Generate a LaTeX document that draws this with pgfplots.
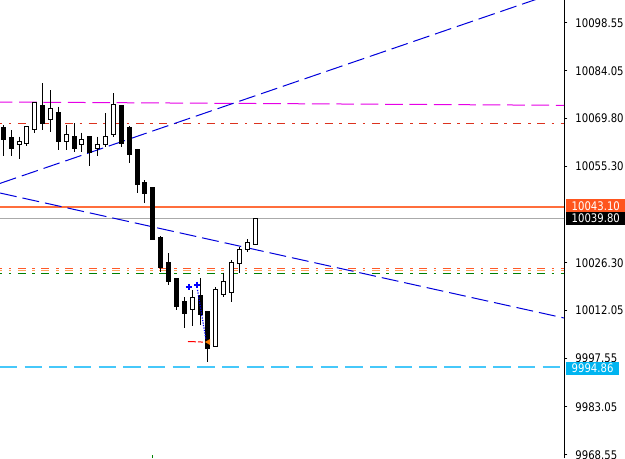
\documentclass[border=0pt]{standalone}
\usepackage{fontspec}
\setmainfont{DejaVu Sans}[FakeStretch=0.85]
\usepackage{pgfplots}
\pgfplotsset{compat=1.18}
\definecolor{obox}{RGB}{255,85,30}
\definecolor{oline}{RGB}{255,110,60}
\definecolor{gline}{RGB}{170,170,170}
\definecolor{cline}{RGB}{70,200,250}
\definecolor{cbox}{RGB}{0,180,240}
\definecolor{mag}{RGB}{230,0,230}
\definecolor{rdd}{RGB}{220,50,30}
\definecolor{c1}{RGB}{255,90,40}
\definecolor{c2}{RGB}{255,160,90}
\definecolor{c3}{RGB}{0,128,0}
\definecolor{tblue}{RGB}{0,0,220}
\newcommand{\cnd}[8]{%
  \addplot[black, line width=0.75pt] coordinates {(#1,#5)(#1,#6)};
  \addplot[draw=black, fill=#8, line width=0.75pt, line cap=rect] coordinates {(#2,#4)(#3,#4)(#3,#7)(#2,#7)(#2,#4)};
}
\newcommand{\lblfont}{\fontsize{8.9pt}{10pt}\selectfont}
\begin{document}
\begin{tikzpicture}
\begin{axis}[
  at={(0,0)}, anchor=south west,
  width=423pt, height=343.5pt, scale only axis,
  xmin=-0.419, xmax=71.25,
  ymin=9967.63, ymax=10105.38,
  axis x line=none,
  axis y line*=right,
  y axis line style={black, line width=0.75pt, -},
  xtick=\empty,
  ytick={10098.55,10084.05,10069.80,10055.30,10026.30,10012.05,9997.55,9983.05,9968.55},
  yticklabels={10098.55,10084.05,10069.80,10055.30,10026.30,10012.05,9997.55,9983.05,9968.55},
  ytick pos=right, yticklabel pos=right,
  tick align=outside,
  major tick length=2.6pt,
  tick style={black, line width=0.75pt},
  yticklabel style={anchor=west, inner sep=0pt, xshift=5.8pt, font=\lblfont, text=black},
]
% horizontal levels
\addplot[mag, line width=0.75pt, dash pattern=on 13.3pt off 5pt, dash phase=4pt] coordinates {(-0.419,10074.70)(71.25,10073.71)};
\addplot[rdd, line width=0.75pt, dash pattern=on 6pt off 4.9pt on 1.9pt off 4.9pt, dash phase=4.3pt] coordinates {(-0.419,10068.29)(71.25,10068.29)};
\addplot[oline, line width=1.2pt] coordinates {(-0.419,10043.10)(71.25,10043.10)};
\addplot[gline, line width=0.75pt] coordinates {(-0.419,10039.80)(71.25,10039.80)};
\addplot[c1, line width=0.75pt, dash pattern=on 6pt off 4.9pt on 1.9pt off 4.9pt, dash phase=4.3pt] coordinates {(-0.419,10024.68)(71.25,10024.68)};
\addplot[c2, line width=0.75pt, dash pattern=on 6pt off 4.9pt on 1.9pt off 4.9pt, dash phase=4.3pt] coordinates {(-0.419,10024.07)(71.25,10024.07)};
\addplot[c3, line width=0.75pt, dash pattern=on 6pt off 4.9pt on 1.9pt off 4.9pt, dash phase=4.3pt] coordinates {(-0.419,10023.27)(71.25,10023.27)};
\addplot[cline, line width=1.5pt, dash pattern=on 13pt off 5.5pt] coordinates {(-0.419,9994.86)(71.25,9994.86)};
% trend lines
\addplot[tblue, line width=0.75pt, dash pattern=on 12.75pt off 4.5pt] coordinates {(-0.419,10050.22)(71.25,10108.45)};
\addplot[tblue, line width=0.75pt, dash pattern=on 12.75pt off 4.5pt] coordinates {(-0.419,10047.33)(71.25,10009.74)};
% candles: x, xl, xr, open, high, low, close, fill
\cnd{0}{-0.254}{0.254}{10066.97}{10067.78}{10058.46}{10063.48}{black}
\cnd{1}{0.746}{1.254}{10064.08}{10066.28}{10058.46}{10060.57}{black}
\cnd{2}{1.746}{2.254}{10061.77}{10064.26}{10057.47}{10062.76}{white}
\cnd{3}{2.746}{3.254}{10062.28}{10067.48}{10061.56}{10067.48}{white}
\cnd{4}{3.746}{4.254}{10066.58}{10074.61}{10065.29}{10074.61}{white}
\cnd{5}{4.746}{5.254}{10073.80}{10080.32}{10066.28}{10068.29}{black}
\cnd{6}{5.746}{6.254}{10069.29}{10078.31}{10065.77}{10072.81}{white}
\cnd{7}{6.746}{7.254}{10071.60}{10073.29}{10060.26}{10062.76}{black}
\cnd{8}{7.746}{8.254}{10062.97}{10067.78}{10060.26}{10064.99}{white}
\cnd{9}{8.746}{9.254}{10064.26}{10068.29}{10059.75}{10060.57}{black}
\cnd{10}{9.746}{10.254}{10061.98}{10065.47}{10059.75}{10063.48}{white}
\cnd{11}{10.746}{11.254}{10064.26}{10064.26}{10055.54}{10059.45}{black}
\cnd{12}{11.746}{12.254}{10060.78}{10064.26}{10058.46}{10061.98}{white}
\cnd{13}{12.746}{13.254}{10061.98}{10071.30}{10061.26}{10064.47}{white}
\cnd{14}{13.746}{14.254}{10064.99}{10077.32}{10064.26}{10074.01}{white}
\cnd{15}{14.746}{15.254}{10073.50}{10073.50}{10061.26}{10062.28}{black}
\cnd{16}{15.746}{16.254}{10067.18}{10067.48}{10056.36}{10059.06}{black}
\cnd{17}{16.746}{17.254}{10060.48}{10060.57}{10047.42}{10049.74}{black}
\cnd{18}{17.746}{18.254}{10050.43}{10051.24}{10044.23}{10047.24}{black}
\cnd{19}{18.746}{19.254}{10048.99}{10048.99}{10033.20}{10033.20}{black}
\cnd{20}{19.746}{20.254}{10033.80}{10034.40}{10023.57}{10024.93}{black}
\cnd{21}{20.746}{21.254}{10026.28}{10029.20}{10019.66}{10020.66}{black}
\cnd{22}{21.746}{22.254}{10021.47}{10021.47}{10012.14}{10013.14}{black}
\cnd{23}{22.746}{23.254}{10014.64}{10016.05}{10006.64}{10011.15}{black}
\cnd{24}{23.746}{24.254}{10012.35}{10018.16}{10007.33}{10015.84}{white}
\cnd{25}{24.746}{25.254}{10016.36}{10021.68}{10007.63}{10010.85}{black}
\cnd{26}{25.746}{26.254}{10011.63}{10011.63}{9996.51}{10000.63}{black}
\cnd{27}{26.746}{27.254}{10001.17}{10019.06}{10001.17}{10018.16}{white}
\cnd{28}{27.746}{28.254}{10016.66}{10023.36}{10015.96}{10020.66}{white}
\cnd{29}{28.746}{29.254}{10017.35}{10027.18}{10014.64}{10026.49}{white}
\cnd{30}{29.746}{30.254}{10026.19}{10031.18}{10023.36}{10030.19}{white}
\cnd{31}{30.746}{31.254}{10030.19}{10033.41}{10029.68}{10032.38}{white}
\cnd{32}{31.746}{32.254}{10031.90}{10039.80}{10031.90}{10039.80}{white}
% trade objects
\addplot[blue, line width=0.9pt, densely dotted] coordinates {(24.68,10018.16)(25.76,10003.12)};
\addplot[red, line width=0.75pt, dash pattern=on 6pt off 1.5pt] coordinates {(23.47,10002.67)(25.37,10002.50)};
\addplot[only marks, mark=+, mark size=2.3pt, blue, line width=1.3pt] coordinates {(23.6,10019.06)(24.65,10019.76)};
\addplot[only marks, mark=triangle*, mark size=2.2pt, mark options={rotate=90, fill=orange, draw=orange}] coordinates {(26.07,10002.52)};
\addplot[c3, line width=0.75pt] coordinates {(18.9,9967.63)(18.9,9968.60)};
\coordinate (pO) at (axis cs:71.25,10043.10);
\coordinate (pG) at (axis cs:71.25,10039.80);
\coordinate (pC) at (axis cs:71.25,9994.86);
\end{axis}
\node[fill=black, text=white, anchor=west, inner xsep=4.1pt, inner ysep=0pt, minimum height=9.75pt, font=\lblfont, xshift=1.5pt] at (pG) {10039.80};
\node[fill=obox, text=white, anchor=west, inner xsep=4.1pt, inner ysep=0pt, minimum height=9.75pt, font=\lblfont, xshift=1.5pt, yshift=1pt] at (pO) {10043.10};
\node[fill=cbox, text=white, anchor=west, inner xsep=4.1pt, inner ysep=0pt, minimum height=10pt, font=\lblfont, xshift=1.5pt, yshift=-0.6pt] at (pC) {9994.86};
\pgfresetboundingbox
\useasboundingbox (0,0) rectangle (468.75pt,343.5pt);
\end{tikzpicture}
\end{document}
